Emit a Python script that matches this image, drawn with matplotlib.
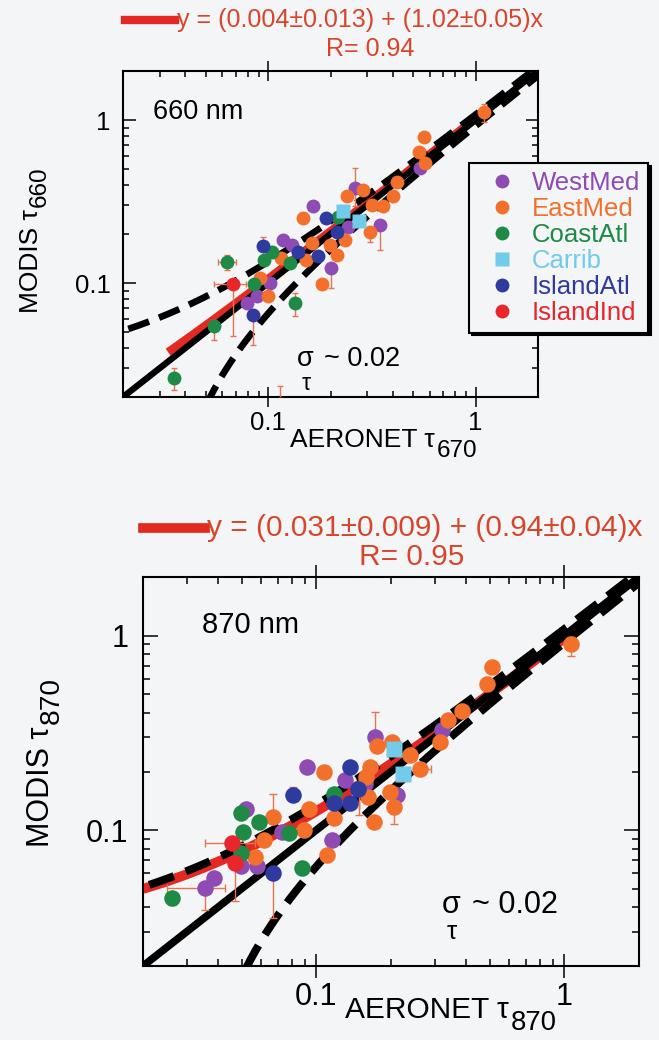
import numpy as np
import matplotlib
matplotlib.use("Agg")
import matplotlib.pyplot as plt
from matplotlib.lines import Line2D

plt.rcParams['font.family'] = ['Liberation Sans', 'DejaVu Sans']

# ---------------- data ----------------
groups = ['WestMed', 'EastMed', 'CoastAtl', 'Carrib', 'IslandAtl', 'IslandInd']
colors = ['#8d4bb3', '#f26f2c', '#1f8a45', '#72cbe8', '#2f3a9f', '#e8262b']
markers = ['o', 'o', 'o', 's', 'o', 'o']

# 660 nm panel
x660 = {
    'WestMed': [0.542, 0.263, 0.165, 0.347, 0.244, 0.118, 0.130, 0.202, 0.102, 0.088, 0.079],
    'EastMed': [1.10, 0.562, 0.532, 0.573, 0.418, 0.40, 0.288, 0.239, 0.316, 0.36, 0.148,
                0.31, 0.235, 0.199, 0.162, 0.214, 0.153, 0.116, 0.181, 0.10, 0.091, 0.114],
    'CoastAtl': [0.0636, 0.104, 0.096, 0.127, 0.086, 0.135, 0.0552, 0.0354, 0.218],
    'Carrib': [0.23, 0.273],
    'IslandAtl': [0.191, 0.214, 0.0945, 0.14, 0.174, 0.0846],
    'IslandInd': [0.0677],
}
y660 = {
    'WestMed': [0.506, 0.382, 0.295, 0.228, 0.222, 0.184, 0.172, 0.124, 0.10, 0.083, 0.075],
    'EastMed': [1.12, 0.79, 0.64, 0.543, 0.419, 0.34, 0.373, 0.34, 0.302, 0.295, 0.25,
                0.207, 0.184, 0.172, 0.176, 0.149, 0.139, 0.142, 0.098, 0.083, 0.107, 0.018],
    'CoastAtl': [0.134, 0.156, 0.139, 0.133, 0.098, 0.075, 0.0543, 0.0262, 0.256],
    'Carrib': [0.275, 0.241],
    'IslandAtl': [0.25, 0.207, 0.168, 0.156, 0.146, 0.064],
    'IslandInd': [0.098],
}
# error bars 660: centre and bounds
e660_x = [0.0636, 0.0677, 0.263, 0.347, 0.0846, 0.135, 0.0354, 1.10, 0.202, 0.31, 0.0945, 0.0552, 0.114]
e660_y = [0.134, 0.098, 0.382, 0.228, 0.064, 0.075, 0.0262, 1.12, 0.124, 0.207, 0.168, 0.0543, 0.018]
e660_xlo = [0.0573, 0.0552, 0.263, 0.347, 0.0846, 0.135, 0.0354, 1.10, 0.202, 0.31, 0.0945, 0.0552, 0.114]
e660_xhi = [0.0703, 0.0786, 0.263, 0.347, 0.0846, 0.135, 0.0354, 1.10, 0.202, 0.31, 0.0945, 0.0552, 0.114]
e660_ylo = [0.121, 0.0471, 0.295, 0.16, 0.0419, 0.0625, 0.0222, 0.977, 0.093, 0.178, 0.168, 0.045, 0.018]
e660_yhi = [0.149, 0.098, 0.506, 0.228, 0.064, 0.087, 0.0302, 1.26, 0.124, 0.207, 0.193, 0.0597, 0.0233]

# 870 nm panel
x870 = {
    'WestMed': [0.321, 0.173, 0.092, 0.131, 0.157, 0.212, 0.0522, 0.073, 0.116, 0.0496, 0.0576, 0.0386, 0.0355],
    'EastMed': [1.06, 0.513, 0.488, 0.386, 0.338, 0.316, 0.176, 0.201, 0.238, 0.263, 0.107, 0.165,
                0.159, 0.162, 0.198, 0.205, 0.171, 0.118, 0.0935, 0.089, 0.067, 0.0617, 0.0567, 0.11],
    'CoastAtl': [0.0496, 0.0586, 0.0505, 0.0779, 0.118, 0.0496, 0.0875, 0.0263],
    'Carrib': [0.205, 0.223],
    'IslandAtl': [0.137, 0.0805, 0.118, 0.137, 0.147, 0.067],
    'IslandInd': [0.0457, 0.0471],
}
y870 = {
    'WestMed': [0.325, 0.30, 0.211, 0.18, 0.173, 0.151, 0.129, 0.098, 0.089, 0.065, 0.065, 0.0566, 0.0503],
    'EastMed': [0.903, 0.686, 0.563, 0.411, 0.366, 0.283, 0.272, 0.283, 0.242, 0.207, 0.199, 0.211,
                0.187, 0.148, 0.157, 0.132, 0.110, 0.115, 0.129, 0.10, 0.117, 0.089, 0.073, 0.0745],
    'CoastAtl': [0.122, 0.110, 0.098, 0.096, 0.154, 0.076, 0.0636, 0.0447],
    'Carrib': [0.262, 0.195],
    'IslandAtl': [0.211, 0.151, 0.137, 0.137, 0.163, 0.06],
    'IslandInd': [0.0855, 0.0675],
}
e870_x = [0.173, 1.06, 0.0805, 0.067, 0.0457, 0.0471, 0.067, 0.0355, 0.0263, 0.205, 0.263, 0.149]
e870_y = [0.30, 0.903, 0.151, 0.117, 0.0855, 0.0675, 0.06, 0.0503, 0.0447, 0.132, 0.207, 0.135]
e870_xlo = [0.173, 1.06, 0.0805, 0.067, 0.0355, 0.0471, 0.067, 0.025, 0.0263, 0.205, 0.263, 0.149]
e870_xhi = [0.173, 1.06, 0.0805, 0.067, 0.0567, 0.0471, 0.067, 0.0427, 0.0263, 0.205, 0.29, 0.149]
e870_ylo = [0.30, 0.787, 0.151, 0.117, 0.0855, 0.043, 0.0353, 0.039, 0.0413, 0.108, 0.207, 0.119]
e870_yhi = [0.404, 0.98, 0.167, 0.154, 0.0855, 0.0675, 0.06, 0.0503, 0.0483, 0.167, 0.207, 0.154]

# regression fits and expected error envelope
fit660 = (0.004, 1.02)
fit870 = (0.031, 0.94)
fit660_range = (0.033, 1.1)
fit870_range = (0.02, 1.0)
ee_a, ee_b = 0.03, 0.05

BG = '#f3f5f7'
ERR_C = '#e8744f'
TXT_RED = '#d9452b'

W, H = 659, 1040
fig = plt.figure(figsize=(W / 100, H / 100), dpi=100, facecolor=BG)


def px_axes(l, t, r, b):
    return [l / W, 1 - b / H, (r - l) / W, (b - t) / H]


def fx(px):
    return px / W


def fy(py):
    return 1 - py / H


def sub_label(x, y, main, sub, size, rotation=0, **kw):
    # main text plus a big, low subscript placed right after it
    t = fig.text(x, y, main, fontsize=size, rotation=rotation, **kw)
    if rotation == 0:
        plt.annotate(sub, xy=(1, 0), xycoords=t, xytext=(1.5, 0.05 * size),
                     textcoords='offset points', fontsize=size * 0.92,
                     ha='left', va='center', annotation_clip=False)
    else:
        plt.annotate(sub, xy=(1, 1), xycoords=t, xytext=(0.3 * size, 1.5),
                     textcoords='offset points', fontsize=size * 0.92,
                     rotation=90, ha='right', va='bottom', annotation_clip=False)
    return t


def sigma_note(ax, x, y, size):
    t = ax.text(x, y, 'σ', transform=ax.transAxes, fontsize=size, va='center')
    ax.annotate('τ', xy=(0.5, 0), xycoords=t, xytext=(0.5, -0.5),
                textcoords='offset points', fontsize=size * 0.85, ha='center', va='top')
    ax.annotate('~ 0.02', xy=(1, 0.5), xycoords=t, xytext=(0.37 * size, 0),
                textcoords='offset points', fontsize=size, ha='left', va='center')


def panel(rect, xs, ys, ex, ey, exlo, exhi, eylo, eyhi, fit, frange, s):
    ax = fig.add_axes(rect, facecolor=BG)
    ax.set_xscale('log')
    ax.set_yscale('log')
    ax.set_xlim(0.02, 2)
    ax.set_ylim(0.02, 2)

    xx = np.logspace(np.log10(0.015), np.log10(2.2), 300)
    xf = np.linspace(*frange, 200)
    ax.plot(xf, fit[0] + fit[1] * xf, color='#e22a22', lw=6 * s, solid_capstyle='butt', zorder=2)
    ax.plot(xx, xx, color='black', lw=4.6 * s, zorder=3, solid_capstyle='butt')
    for sign in (1, -1):
        yy = xx + sign * (ee_a + ee_b * xx)
        yy = np.where(yy > 0, yy, np.nan)
        ax.plot(xx, yy, color='black', lw=4.8 * s, dashes=(3.3, 1.6), zorder=3)

    ex = np.array(ex); ey = np.array(ey)
    ax.errorbar(ex, ey,
                xerr=[ex - np.array(exlo), np.array(exhi) - ex],
                yerr=[ey - np.array(eylo), np.array(eyhi) - ey],
                fmt='none', ecolor=ERR_C, elinewidth=1.0, capsize=2.5 * s, capthick=1.0, zorder=4)
    for g, c, m in zip(groups, colors, markers):
        ax.plot(xs[g], ys[g], m, color=c, mec='none', ms=(10 if m == 'o' else 9.5) * s,
                label=g, zorder=5)

    for sp in ax.spines.values():
        sp.set_linewidth(1.5)
    ax.tick_params(which='both', top=True, right=True, direction='in', width=1.1,
                   labelsize=18.5 * s, colors='black')
    ax.tick_params(which='major', length=9 * s)
    ax.tick_params(axis='y', which='major', pad=9 * s)
    ax.tick_params(axis='x', which='major', direction='inout', length=14 * s, pad=3)
    ax.tick_params(which='minor', length=4 * s)
    ax.set_xticks([0.1, 1])
    ax.set_xticklabels(['0.1', '1'])
    ax.set_yticks([0.1, 1])
    ax.set_yticklabels(['0.1', '1'])
    return ax


# ---------------- top panel: 660 nm ----------------
s1 = 1.0
ax1 = panel(px_axes(123, 71, 538, 397), x660, y660, e660_x, e660_y, e660_xlo, e660_xhi,
            e660_ylo, e660_yhi, fit660, fit660_range, s1)
sub_label(fx(290), fy(440), 'AERONET τ', '670', 19, ha='left', va='center')
sub_label(fx(31), fy(313), 'MODIS τ', '660', 19, rotation=90, ha='center', va='bottom')
ax1.text(0.072, 0.874, '660 nm', transform=ax1.transAxes, fontsize=19.5, va='center')
sigma_note(ax1, 0.42, 0.118, 19.5)
leg = ax1.legend(loc='upper left', bbox_to_anchor=(469 / W, 1 - 163 / H),
                 bbox_transform=fig.transFigure, fontsize=18.5, frameon=True, fancybox=False,
                 shadow={'color': 'black', 'alpha': 1}, edgecolor='black', facecolor=BG,
                 framealpha=1, handlelength=2.0, handletextpad=0.15, labelspacing=0.08,
                 borderpad=0.3, markerscale=1.0, labelcolor='markerfacecolor',
                 borderaxespad=0)
leg.get_frame().set_linewidth(1.5)

fig.add_artist(Line2D([fx(125), fx(175)], [fy(20), fy(20)], color='#e22a22', lw=6))
fig.text(fx(177), fy(20), 'y = (0.004±0.013) + (1.02±0.05)x', color=TXT_RED,
         fontsize=18, va='center', ha='left')
fig.text(fx(370), fy(49), 'R= 0.94', color=TXT_RED, fontsize=18, va='center', ha='center')

# ---------------- bottom panel: 870 nm ----------------
s2 = 1.19
ax2 = panel(px_axes(143, 577, 639, 966), x870, y870, e870_x, e870_y, e870_xlo, e870_xhi,
            e870_ylo, e870_yhi, fit870, fit870_range, s2)
sub_label(fx(345), fy(1010), 'AERONET τ', '870', 21.5, ha='left', va='center')
sub_label(fx(41), fy(847), 'MODIS τ', '870', 22, rotation=90, ha='center', va='bottom')
ax2.text(0.119, 0.877, '870 nm', transform=ax2.transAxes, fontsize=21, va='center')
sigma_note(ax2, 0.603, 0.158, 22)

fig.add_artist(Line2D([fx(143), fx(205)], [fy(528), fy(528)], color='#e22a22', lw=7))
fig.text(fx(207), fy(528), 'y = (0.031±0.009) + (0.94±0.04)x', color=TXT_RED,
         fontsize=21.5, va='center', ha='left')
fig.text(fx(412), fy(557), 'R= 0.95', color=TXT_RED, fontsize=21.5, va='center', ha='center')

fig.savefig('out.png', dpi=100, facecolor=BG)
